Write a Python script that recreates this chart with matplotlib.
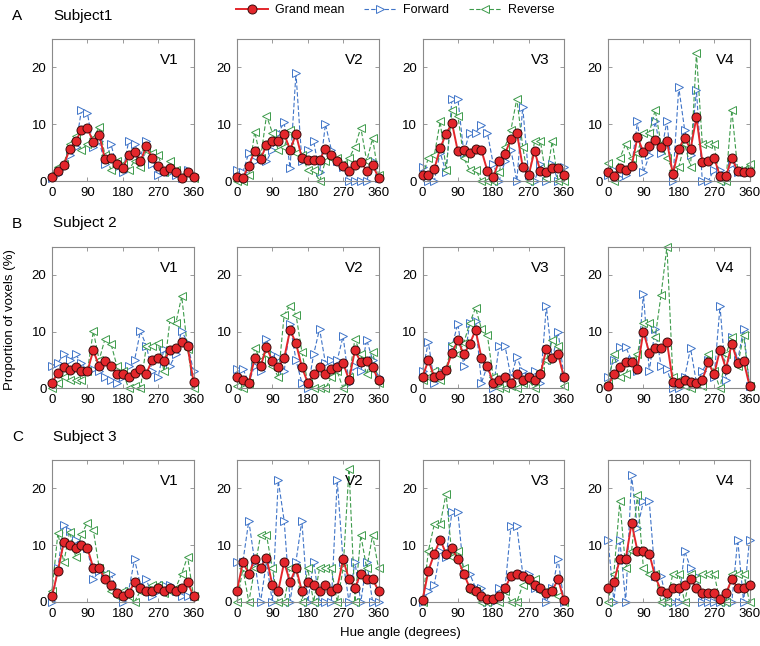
"""
hue tuning curves: proportion of voxels per preferred hue, 3 subjects x 4 areas
"""

import matplotlib as mpl
mpl.use('Agg')
import matplotlib.pyplot as plt
from matplotlib.lines import Line2D

plt.rcParams['font.family'] = ['Liberation Sans', 'DejaVu Sans']

hue = [0, 15, 30, 45, 60, 75, 90, 105, 120, 135, 150, 165, 180,
       195, 210, 225, 240, 255, 270, 285, 300, 315, 330, 345, 360]
areas = ['V1', 'V2', 'V3', 'V4']
subjects = ['Subject1', 'Subject 2', 'Subject 3']
letters = ['A', 'B', 'C']

# subject 1 (V1, V2, V3, V4)
s1_mean = [
    [0.7, 1.8, 2.8, 5.6, 7.0, 8.9, 9.3, 6.9, 8.1, 3.8, 4.0, 3.0, 2.3, 4.5, 5.1, 3.5, 6.1, 4.0, 2.7, 1.7, 2.3, 1.6, 0.6, 1.6, 0.7],
    [0.7, 0.6, 2.7, 5.3, 3.9, 6.3, 7.1, 7.0, 8.3, 5.5, 8.2, 4.1, 3.7, 3.7, 3.7, 5.7, 4.6, 3.6, 2.6, 1.8, 2.9, 3.4, 1.8, 2.8, 0.6],
    [1.0, 1.0, 2.1, 5.8, 8.3, 10.2, 5.2, 5.4, 5.0, 5.7, 5.4, 1.8, 0.7, 3.6, 4.8, 7.4, 8.5, 2.5, 1.0, 5.3, 1.7, 1.5, 2.3, 2.3, 1.0],
    [1.6, 0.8, 2.3, 2.0, 2.6, 7.7, 5.1, 6.2, 7.3, 5.9, 7.0, 1.2, 5.7, 7.6, 5.6, 11.2, 3.4, 3.6, 4.1, 0.8, 0.8, 4.1, 1.7, 1.6, 1.6],
]
s1_fwd = [
    [0.5, 1.2, 2.5, 4.5, 6.0, 12.5, 12.0, 6.0, 7.0, 3.0, 6.5, 2.5, 1.5, 7.0, 6.5, 4.5, 7.0, 3.0, 1.0, 2.0, 1.5, 1.0, 0.5, 2.0, 1.0],
    [2.0, 1.5, 5.0, 3.5, 4.0, 3.5, 5.5, 8.5, 10.3, 2.3, 19.0, 3.5, 5.5, 7.0, 1.5, 10.0, 5.5, 3.5, 2.5, 0.0, 0.0, 0.0, 0.0, 3.5, 0.5],
    [2.5, 0.0, 0.0, 5.0, 1.5, 14.5, 14.5, 5.0, 8.5, 8.5, 9.8, 8.5, 3.0, 0.0, 3.5, 5.5, 0.0, 13.0, 1.0, 0.0, 3.0, 0.0, 3.0, 0.0, 2.5],
    [1.0, 2.0, 0.5, 1.0, 2.5, 10.5, 1.5, 4.5, 10.5, 5.0, 10.5, 0.0, 16.5, 9.0, 4.5, 16.0, 0.0, 0.0, 2.0, 2.0, 0.0, 3.0, 1.5, 1.5, 1.5],
]
s1_rev = [
    [1.0, 2.5, 3.0, 6.5, 8.0, 5.5, 6.5, 7.5, 9.5, 4.5, 2.0, 3.5, 3.0, 2.0, 3.5, 2.5, 5.5, 5.0, 4.5, 1.5, 3.5, 2.0, 0.8, 1.2, 0.5],
    [0.0, 0.0, 1.0, 8.7, 4.0, 11.5, 8.5, 5.5, 6.0, 9.0, 5.0, 4.5, 2.0, 2.0, 0.0, 3.5, 4.0, 4.0, 3.0, 4.0, 6.0, 9.4, 3.5, 7.5, 1.0],
    [1.0, 4.0, 4.5, 10.5, 2.0, 12.5, 11.5, 4.0, 2.0, 2.0, 0.0, 0.0, 0.0, 1.5, 6.0, 9.0, 14.5, 6.0, 0.0, 7.0, 7.0, 0.5, 7.0, 0.0, 0.0],
    [3.2, 0.0, 4.0, 6.5, 4.0, 5.0, 8.5, 8.5, 12.5, 6.5, 4.0, 2.0, 2.5, 6.5, 2.5, 22.5, 6.5, 6.5, 6.5, 0.0, 0.0, 12.5, 2.0, 2.0, 3.0],
]

# subject 2
s2_mean = [
    [1.0, 2.8, 3.7, 3.2, 3.7, 3.0, 3.0, 6.7, 3.9, 4.9, 4.0, 2.5, 2.5, 2.0, 2.8, 3.5, 2.6, 5.1, 5.3, 4.9, 6.7, 7.1, 8.2, 7.4, 1.2],
    [2.0, 1.5, 1.0, 5.3, 3.9, 7.3, 4.8, 3.8, 5.3, 10.3, 8.0, 3.8, 1.0, 2.5, 3.8, 2.5, 3.5, 3.7, 4.5, 1.5, 6.7, 4.6, 4.9, 3.7, 1.5],
    [2.0, 5.0, 2.0, 2.3, 3.3, 6.3, 8.5, 6.0, 7.8, 10.3, 5.4, 4.0, 1.0, 1.5, 2.0, 1.0, 2.5, 1.5, 2.0, 1.5, 2.5, 7.0, 5.3, 6.0, 2.0],
    [0.5, 2.5, 3.7, 4.6, 4.6, 3.5, 10.0, 6.3, 7.1, 7.1, 8.2, 1.2, 1.0, 1.5, 1.2, 1.0, 1.5, 4.6, 2.5, 6.8, 3.5, 7.9, 4.5, 4.9, 0.5],
]
s2_fwd = [
    [4.0, 4.5, 6.0, 5.0, 6.0, 4.5, 3.0, 3.5, 3.0, 2.0, 1.5, 1.0, 2.0, 4.0, 5.0, 10.1, 7.5, 3.0, 2.0, 7.0, 4.0, 6.0, 10.2, 8.0, 3.0],
    [3.5, 3.5, 1.0, 4.0, 3.0, 8.7, 6.0, 5.5, 3.0, 11.3, 5.0, 1.0, 0.0, 6.0, 10.5, 4.5, 5.0, 5.0, 9.2, 1.0, 4.0, 3.0, 8.6, 5.0, 2.0],
    [3.0, 8.2, 1.0, 3.0, 3.0, 7.5, 11.4, 4.0, 11.5, 11.8, 1.0, 4.0, 0.0, 7.5, 7.5, 2.0, 5.5, 3.0, 2.0, 3.0, 1.0, 14.5, 5.0, 10.0, 2.0],
    [2.0, 5.0, 7.3, 7.3, 5.0, 3.0, 16.7, 3.0, 10.5, 4.0, 3.5, 0.0, 0.0, 2.0, 7.1, 1.0, 3.0, 5.0, 2.0, 14.5, 1.5, 9.0, 5.0, 10.5, 0.5],
]
s2_rev = [
    [0.0, 1.0, 2.0, 1.5, 1.5, 1.5, 3.0, 10.1, 5.0, 8.8, 7.9, 4.0, 3.0, 0.0, 0.5, 0.0, 7.5, 7.5, 8.0, 3.0, 12.0, 11.5, 16.2, 7.0, 0.0],
    [0.5, 0.0, 1.0, 7.2, 5.0, 6.0, 4.0, 2.0, 13.0, 14.6, 13.0, 6.5, 1.0, 0.0, 0.0, 0.0, 2.0, 3.0, 0.0, 2.0, 8.7, 6.0, 2.5, 6.5, 1.0],
    [1.5, 2.0, 3.0, 1.5, 3.5, 7.8, 6.0, 8.0, 11.5, 14.2, 10.5, 9.4, 2.0, 0.0, 0.0, 0.5, 0.0, 1.0, 1.5, 0.0, 3.0, 5.0, 8.5, 7.5, 0.5],
    [1.0, 6.0, 2.0, 2.5, 5.0, 6.0, 11.5, 11.5, 9.0, 16.5, 25.0, 2.0, 1.5, 0.5, 0.0, 1.0, 0.5, 6.0, 3.0, 0.0, 6.0, 9.0, 4.0, 9.5, 0.5],
]

# subject 3
s3_mean = [
    [1.0, 5.5, 10.5, 10.0, 9.5, 10.0, 9.5, 6.0, 6.0, 4.0, 3.0, 1.5, 1.0, 1.5, 3.5, 2.5, 2.0, 2.0, 2.5, 2.0, 2.5, 2.0, 2.5, 3.5, 1.0],
    [2.0, 7.0, 5.0, 7.5, 6.0, 7.8, 3.0, 2.0, 7.0, 3.5, 6.0, 2.0, 3.5, 3.0, 2.0, 3.0, 2.0, 2.5, 7.5, 4.0, 2.5, 5.0, 4.0, 4.0, 2.0],
    [0.3, 5.5, 8.5, 11.0, 8.5, 9.5, 7.5, 5.0, 2.5, 2.0, 1.0, 0.5, 0.5, 1.0, 2.5, 4.5, 5.0, 4.5, 4.0, 3.0, 2.5, 1.5, 2.0, 4.0, 0.3],
    [2.5, 3.5, 7.5, 7.5, 13.9, 9.0, 9.0, 8.5, 4.5, 2.0, 1.5, 2.5, 2.5, 3.0, 4.0, 2.5, 1.5, 1.5, 1.5, 0.5, 1.5, 4.0, 2.5, 2.5, 3.0],
]
s3_fwd = [
    [0.0, 6.0, 13.6, 12.5, 11.0, 10.0, 9.5, 4.0, 5.5, 5.0, 5.0, 2.0, 0.0, 2.0, 7.5, 3.0, 4.0, 1.0, 2.0, 3.0, 3.0, 2.0, 1.0, 1.0, 1.0],
    [7.1, 7.1, 14.3, 7.1, 0.0, 7.1, 0.0, 21.4, 14.3, 0.0, 7.1, 14.3, 0.0, 7.1, 0.0, 0.0, 0.0, 21.4, 7.1, 0.0, 7.1, 0.0, 7.1, 0.0, 0.0],
    [0.0, 2.0, 3.0, 9.0, 8.0, 15.9, 15.9, 5.0, 5.0, 2.5, 2.5, 0.0, 0.0, 2.5, 2.5, 13.3, 13.3, 5.0, 5.0, 2.5, 2.5, 0.0, 2.5, 7.5, 0.0],
    [11.0, 0.0, 11.0, 0.0, 22.3, 13.0, 17.7, 17.7, 4.5, 4.5, 0.0, 0.0, 0.0, 9.0, 6.0, 4.5, 0.0, 0.0, 0.0, 0.0, 0.0, 0.0, 11.0, 0.0, 11.0],
]
s3_rev = [
    [2.0, 12.1, 7.0, 12.4, 8.0, 12.0, 13.9, 12.7, 6.0, 5.0, 2.0, 1.0, 2.0, 1.0, 0.0, 2.0, 2.0, 3.0, 3.0, 1.5, 2.0, 2.5, 5.0, 8.0, 1.0],
    [0.0, 5.9, 0.0, 5.9, 11.8, 11.8, 5.9, 0.0, 0.0, 5.9, 5.9, 0.0, 5.9, 0.0, 5.9, 5.9, 5.9, 0.0, 5.9, 23.5, 0.0, 11.8, 5.9, 11.8, 5.9],
    [0.0, 9.0, 13.7, 13.7, 19.1, 8.0, 9.0, 6.0, 2.0, 2.0, 0.0, 0.0, 0.5, 0.0, 2.0, 0.0, 0.0, 3.0, 3.5, 4.0, 2.0, 2.0, 2.0, 1.0, 0.0],
    [0.0, 5.0, 17.7, 6.0, 9.0, 18.8, 6.0, 5.0, 5.0, 0.0, 0.0, 5.0, 5.0, 0.0, 5.0, 4.0, 5.0, 5.0, 5.0, 0.0, 0.0, 5.0, 5.0, 5.0, 0.0],
]

means = [s1_mean, s2_mean, s3_mean]
fwds = [s1_fwd, s2_fwd, s3_fwd]
revs = [s1_rev, s2_rev, s3_rev]

red = '#e3262b'
blue = '#3f74c8'
green = '#3d9b4b'
grey = '#8a8a8a'

W, H = 760.0, 646.0
col_left = [52, 237, 422.5, 608]
row_top = [39, 246.5, 460]
aw, ah = 141.5, 142

fig = plt.figure(figsize=(7.6, 6.46), dpi=100)

for i in range(3):
    for j in range(4):
        ax = fig.add_axes([col_left[j] / W, 1 - (row_top[i] + ah) / H, aw / W, ah / H])
        ax.plot(hue, fwds[i][j], color=blue, lw=0.8, ls=(0, (4, 2)), marker='>',
                ms=5.5, mfc='white', mec=blue, mew=0.7, clip_on=False)
        ax.plot(hue, revs[i][j], color=green, lw=0.8, ls=(0, (4, 2)), marker='<',
                ms=5.5, mfc='white', mec=green, mew=0.7, clip_on=False)
        ax.plot(hue, means[i][j], color=red, lw=1.4, marker='o', ms=6.5,
                mfc=red, mec='#3a0a0a', mew=0.7, clip_on=False, zorder=5)
        ax.set_xlim(0, 360)
        ax.set_ylim(0, 25)
        ax.set_xticks([0, 90, 180, 270, 360])
        ax.set_yticks([0, 10, 20])
        ax.tick_params(direction='in', top=True, right=True, length=3, width=0.6,
                       colors=grey, labelcolor='black', labelsize=9.5, pad=4)
        for s in ax.spines.values():
            s.set_color(grey)
            s.set_linewidth(0.8)
        ax.text(0.83, 0.85, areas[j], transform=ax.transAxes, fontsize=11, ha='center', va='center')

    y = 1 - (row_top[i] - 23) / H
    fig.text(12 / W, y, letters[i], fontsize=11, va='center')
    fig.text(53 / W, y, subjects[i], fontsize=11, va='center')

handles = [
    Line2D([], [], color=red, lw=1.4, marker='o', ms=6.5, mfc=red, mec='#3a0a0a', mew=0.7),
    Line2D([], [], color=blue, lw=0.8, ls=(0, (4, 2)), marker='>', ms=5.5, mfc='white', mec=blue, mew=0.7),
    Line2D([], [], color=green, lw=0.8, ls=(0, (4, 2)), marker='<', ms=5.5, mfc='white', mec=green, mew=0.7),
]
fig.legend(handles, ['Grand mean', 'Forward', 'Reverse'], loc='center', ncol=3,
           bbox_to_anchor=(395 / W, 1 - 10 / H), frameon=False, fontsize=9,
           handlelength=2.6, columnspacing=1.6, handletextpad=0.5)

fig.text(10 / W, 1 - 320 / H, 'Proportion of voxels (%)', rotation=90, fontsize=9.5,
         ha='center', va='center')
fig.text(400 / W, 1 - 633 / H, 'Hue angle (degrees)', fontsize=9.5, ha='center', va='center')

plt.savefig('out.png', dpi=100)
